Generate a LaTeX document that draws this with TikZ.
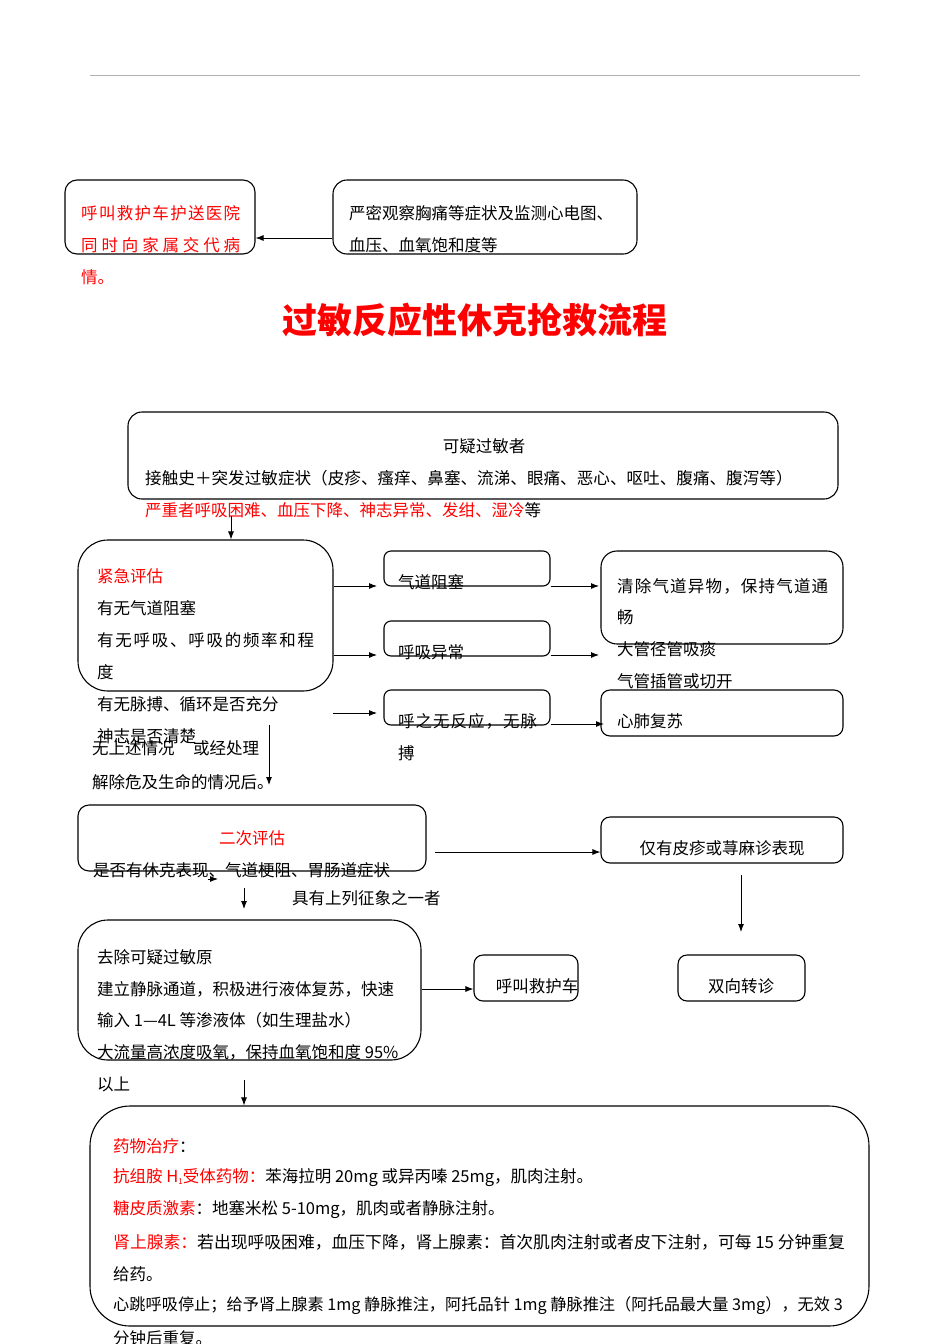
\documentclass[tikz,border=0pt]{standalone}
\usepackage{fontspec}
\setmainfont{Noto Sans CJK SC}
\usetikzlibrary{arrows.meta}
\definecolor{redt}{RGB}{255,0,0}
\definecolor{rulegray}{RGB}{176,176,176}
\newcommand\spr[2]{\makebox[#1][s]{#2}}
\begin{document}
\begin{tikzpicture}[x=1pt,y=-1pt,
  box/.style={draw, line width=1.1pt, rounded corners=#1, inner sep=0pt},
  box/.default=10pt,
  txt/.style={anchor=west, inner sep=0pt, font=\fontsize{16.5}{16.5}\selectfont},
  ctxt/.style={anchor=center, inner sep=0pt, font=\fontsize{16.5}{16.5}\selectfont},
  arr/.style={-{Latex[length=8pt,width=6pt]}, line width=0.9pt}]
\useasboundingbox[fill=white] (0,0) rectangle (950,1344);
% top rule
\coordinate (r1) at (90,75);
\coordinate (r2) at (860,75);
\draw[rulegray, line width=1pt] (r1) -- (r2);

% boxes
\node[box=12pt, minimum width=190pt, minimum height=74pt] (A) at (160,217) {};
\node[box=14pt, minimum width=304pt, minimum height=74pt] (B) at (485,217) {};
\node[box=14pt, minimum width=710pt, minimum height=87pt] (C) at (483,455.5) {};
\node[box=30pt, minimum width=255pt, minimum height=151pt] (D) at (205.5,615.5) {};
\node[box=7pt, minimum width=166pt, minimum height=35pt] (E1) at (467,568.5) {};
\node[box=7pt, minimum width=166pt, minimum height=35pt] (E2) at (467,638.5) {};
\node[box=7pt, minimum width=166pt, minimum height=35pt] (E3) at (467,707.5) {};
\node[box=16pt, minimum width=242pt, minimum height=93pt] (F1) at (722,597.5) {};
\node[box=9pt, minimum width=242pt, minimum height=46pt] (F2) at (722,713) {};
\node[box=11pt, minimum width=348pt, minimum height=66pt] (G) at (252,838) {};
\node[box=9pt, minimum width=242pt, minimum height=46pt] (H1) at (722,840) {};
\node[box=9pt, minimum width=127pt, minimum height=46pt] (H2) at (741.5,978) {};
\node[box=30pt, minimum width=343pt, minimum height=140pt] (I) at (249.5,990) {};
\node[box=9pt, minimum width=104pt, minimum height=46pt] (J) at (526,978) {};
\node[box=40pt, minimum width=779pt, minimum height=220pt] (K) at (479.5,1216) {};

% texts A
\node[txt, text=redt] (ta1) at (81,213) {\spr{159pt}{呼\hfill 叫\hfill 救\hfill 护\hfill 车\hfill 护\hfill 送\hfill 医\hfill 院}};
\node[txt, text=redt] (ta2) at (81,245) {\spr{159pt}{同\hfill 时\hfill 向\hfill 家\hfill 属\hfill 交\hfill 代\hfill 病}};
\node[txt, text=redt] (ta3) at (81,277) {情。};
% texts B
\node[txt] (tb1) at (349,213) {严密观察胸痛等症状及监测心电图、};
\node[txt] (tb2) at (349,245) {血压、血氧饱和度等};
% title
\node[anchor=center, inner sep=0pt, text=redt, font=\fontsize{35}{35}\selectfont\bfseries] (title) at (475,320) {过敏反应性休克抢救流程};
% C
\node[ctxt] (tc1) at (484,446) {可疑过敏者};
\node[txt, font=\fontsize{16.6}{16.6}\selectfont] (tc2) at (145,478) {接触史＋突发过敏症状（皮疹、瘙痒、鼻塞、流涕、眼痛、恶心、呕吐、腹痛、腹泻等）};
\node[txt] (tc3) at (145,510) {\textcolor{redt}{严重者呼吸困难、血压下降、神志异常、发绀、湿冷}等};
% D
\node[txt, text=redt] (td1) at (97,576) {紧急评估};
\node[txt] (td2) at (97,608) {有无气道阻塞};
\node[txt] (td3) at (97,640) {\spr{217pt}{有\hfill 无\hfill 呼\hfill 吸\hfill 、\hfill 呼\hfill 吸\hfill 的\hfill 频\hfill 率\hfill 和\hfill 程}};
\node[txt] (td4) at (97,672) {度};
\node[txt] (td5) at (97,704) {有无脉搏、循环是否充分};
\node[txt] (td6) at (97,736) {神志是否清楚};
\node[txt] (td7) at (92,748) {无上述情况};
\node[txt] (td8) at (193,748) {或经处理};
\node[txt] (td9) at (92,782) {解除危及生命的情况后。};
% E
\node[txt] (te1) at (398,582) {气道阻塞};
\node[txt] (te2) at (398,652) {呼吸异常};
\node[txt] (te3) at (398,721) {\spr{139pt}{呼\hfill 之\hfill 无\hfill 反\hfill 应\hfill ，\hfill 无\hfill 脉}};
\node[txt] (te4) at (398,753) {搏};
% F
\node[txt] (tf1) at (617,586) {\spr{211pt}{清\hfill 除\hfill 气\hfill 道\hfill 异\hfill 物\hfill ，\hfill 保\hfill 持\hfill 气\hfill 道\hfill 通}};
\node[txt] (tf2) at (617,617) {畅};
\node[txt] (tf3) at (617,649) {大管径管吸痰};
\node[txt] (tf4) at (617,681) {气管插管或切开};
\node[txt] (tf5) at (617,721) {心肺复苏};
% G
\node[ctxt, text=redt] (tg1) at (252,838) {二次评估};
\node[txt] (tg2) at (93,870) {是否有休克表现、气道梗阻、胃肠道症状};
\node[txt] (tg3) at (292,898) {具有上列征象之一者};
% H, J
\node[ctxt] (th1) at (722,848) {仅有皮疹或荨麻诊表现};
\node[ctxt] (th2) at (741,986) {双向转诊};
\node[ctxt] (tj) at (537,986) {呼叫救护车};
% I
\node[txt] (ti1) at (97,957) {去除可疑过敏原};
\node[txt] (ti2) at (97,989) {建立静脉通道，积极进行液体复苏，快速};
\node[txt] (ti3) at (97,1020) {输入 1—4L 等渗液体（如生理盐水）};
\node[txt] (ti4) at (97,1052) {大流量高浓度吸氧，保持血氧饱和度 95\%};
\node[txt] (ti5) at (97,1084) {以上};
% K
\node[txt] (tk1) at (113,1146) {\textcolor{redt}{药物治疗}：};
\node[txt] (tk2) at (113,1178) {\textcolor{redt}{抗组胺 H{\fontsize{8}{8}\selectfont\raisebox{-1.5pt}{1}}受体药物：}苯海拉明 20mg 或异丙嗪 25mg，肌肉注射。};
\node[txt] (tk3) at (113,1210) {\textcolor{redt}{糖皮质激素}：地塞米松 5-10mg，肌肉或者静脉注射。};
\node[txt, font=\fontsize{16.8}{16.8}\selectfont] (tk4) at (113,1242) {\textcolor{redt}{肾上腺素：}若出现呼吸困难，血压下降，肾上腺素：首次肌肉注射或者皮下注射，可每 15 分钟重复};
\node[txt] (tk5) at (113,1274) {给药。};
\node[txt, font=\fontsize{16.2}{16.2}\selectfont] (tk6) at (113,1306) {心跳呼吸停止；给予肾上腺素 1mg 静脉推注，阿托品针 1mg 静脉推注（阿托品最大量 3mg），无效 3};
\node[txt] (tk7) at (113,1338) {分钟后重复。};

% free-end coordinates
\coordinate (c0) at (231,516);
\coordinate (d1) at (377,586);
\coordinate (d2) at (377,655);
\coordinate (d3s) at (333,713);
\coordinate (d3) at (377,713);
\coordinate (f1) at (599,586);
\coordinate (f2) at (599,655);
\coordinate (f3) at (604,724);
\coordinate (v1s) at (269,725);
\coordinate (v1e) at (269,785);
\coordinate (s1s) at (208,879);
\coordinate (s1e) at (218,879);
\coordinate (v2s) at (244,888);
\coordinate (v2e) at (244,909);
\coordinate (g1s) at (435,852);
\coordinate (h1s) at (741,875);
\coordinate (h1e) at (741,932);
\coordinate (v3s) at (244,1080);

% connectors
\draw[arr] (B.west |- 0,238) -- (A.east |- 0,238);
\draw[arr] (c0) -- (c0 |- D.north);
\draw[arr] (D.east |- d1) -- (d1);
\draw[arr] (D.east |- d2) -- (d2);
\draw[arr] (d3s) -- (d3);
\draw[arr] (E1.east |- f1) -- (f1);
\draw[arr] (E2.east |- f2) -- (f2);
\draw[arr] (E3.east |- f3) -- (f3);
\draw[arr] (v1s) -- (v1e);
\draw[arr] (s1s) -- (s1e);
\draw[arr] (v2s) -- (v2e);
\draw[arr] (g1s) -- (g1s -| H1.west);
\draw[arr] (h1s) -- (h1e);
\draw[arr] (I.east |- 0,989) -- (0,989 -| J.west);
\draw[arr] (v3s) -- (v3s |- K.north);
\end{tikzpicture}
\end{document}
